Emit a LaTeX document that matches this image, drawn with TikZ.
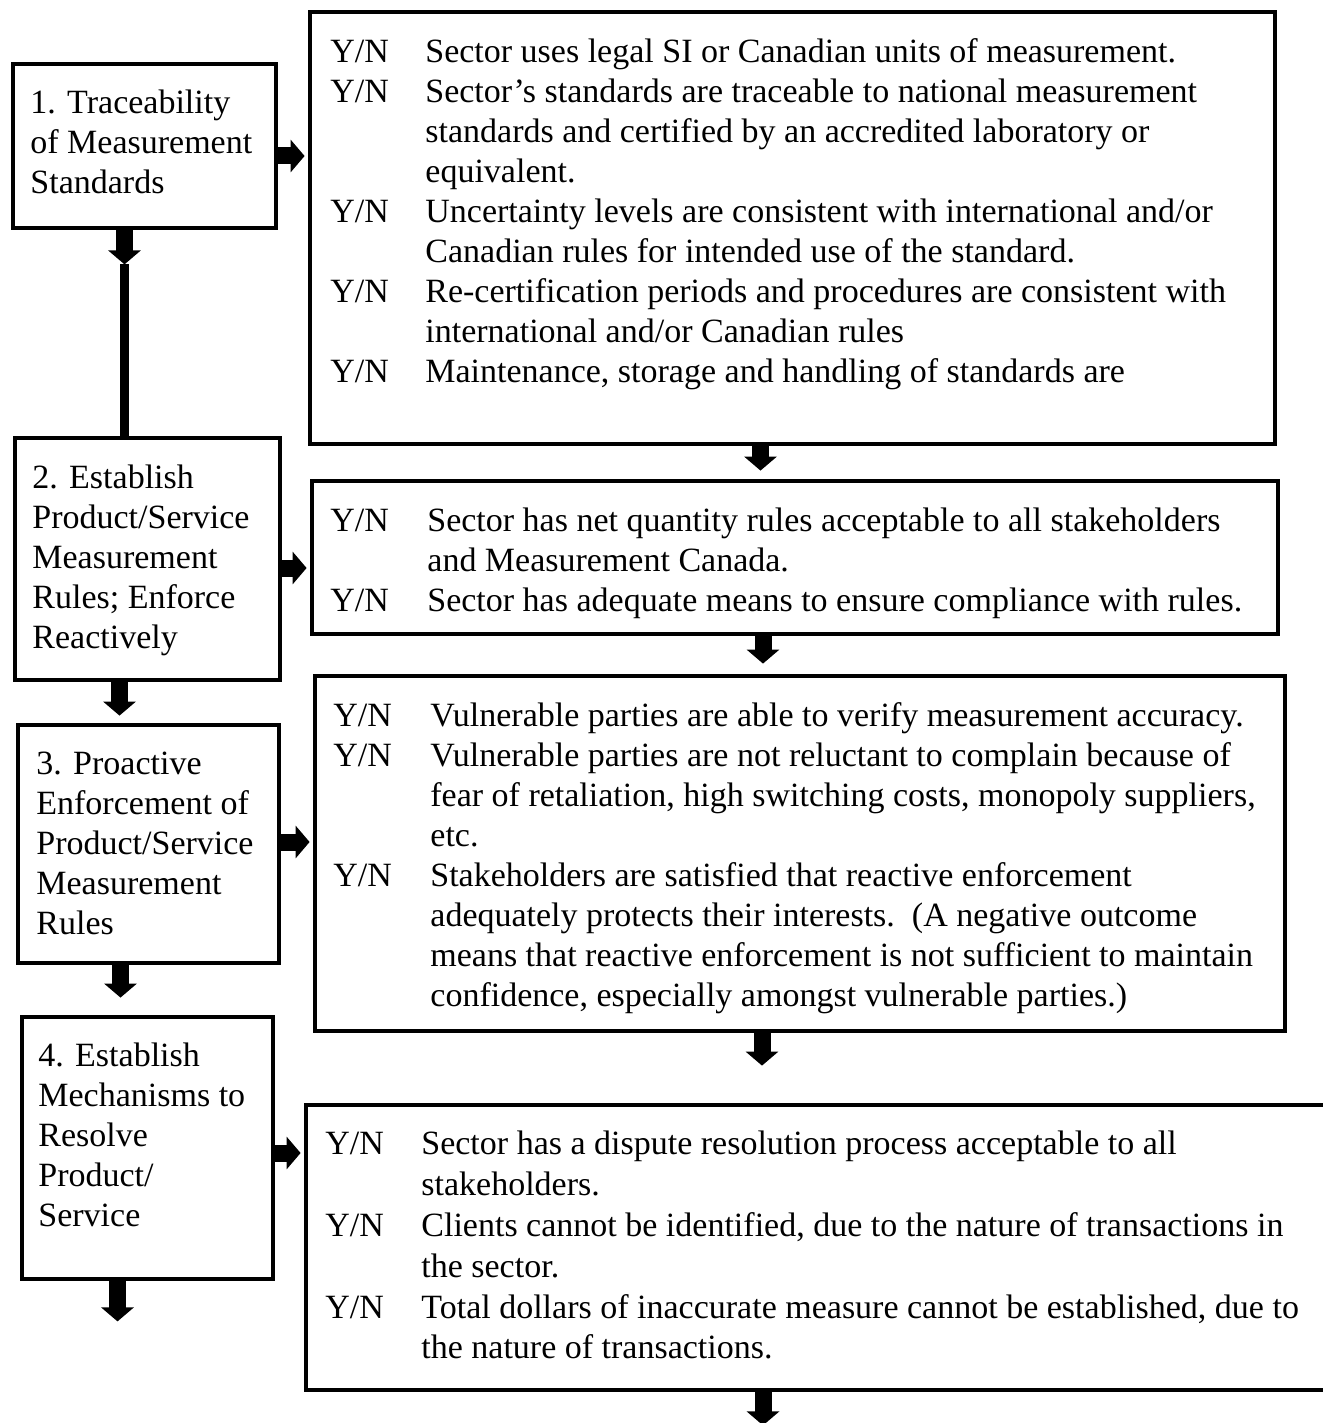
\documentclass[tikz,border=0pt]{standalone}
\usepackage{fontspec}
\setmainfont{Liberation Serif}
\usetikzlibrary{arrows.meta,fit}

\tikzset{
    stagebox/.style={draw, line width=2.4pt, inner sep=0pt},
    boxtext/.style={anchor=north west, inner sep=0pt, font=\fontsize{17}{20}\selectfont},
    blockarrow/.style={line width=8.5pt, -{Triangle[width=16pt,length=7pt]}},
}

\begin{document}
\begin{tikzpicture}[x=0.5pt, y=-0.5pt]
    \useasboundingbox (0,0) rectangle (1322,1423);

    % 1. Traceability (left) and its checks (right)
    \node[stagebox, fit={(13,64) (276,228)}] (b1) {};
    \node[boxtext] (t1) at (30,85) {\begin{tabular}{@{}l@{}}
        1. Traceability\\
        of Measurement\\
        Standards
    \end{tabular}};
    \node[stagebox, fit={(310,12) (1275,444)}] (bA) {};
    \node[boxtext] (tA) at (330,34) {\begin{tabular}{@{}p{47.5pt}@{}l@{}}
        Y/N & Sector uses legal SI or Canadian units of measurement.\\
        Y/N & Sector's standards are traceable to national measurement\\
            & standards and certified by an accredited laboratory or\\
            & equivalent.\\
        Y/N & Uncertainty levels are consistent with international and/or\\
            & Canadian rules for intended use of the standard.\\
        Y/N & Re-certification periods and procedures are consistent with\\
            & international and/or Canadian rules\\
        Y/N & Maintenance, storage and handling of standards are
    \end{tabular}};

    % 2. Establish rules (left) and its checks (right)
    \node[stagebox, fit={(15,438) (280,680)}] (b2) {};
    \node[boxtext] (t2) at (32,460) {\begin{tabular}{@{}l@{}}
        2. Establish\\
        Product/Service\\
        Measurement\\
        Rules; Enforce\\
        Reactively
    \end{tabular}};
    \node[stagebox, fit={(312,481) (1278,634)}] (bB) {};
    \node[boxtext] (tB) at (330,503) {\begin{tabular}{@{}p{48.5pt}@{}l@{}}
        Y/N & Sector has net quantity rules acceptable to all stakeholders\\
            & and Measurement Canada.\\
        Y/N & Sector has adequate means to ensure compliance with rules.
    \end{tabular}};

    % 3. Proactive enforcement (left) and its checks (right)
    \node[stagebox, fit={(18,725) (279,963)}] (b3) {};
    \node[boxtext] (t3) at (36,746) {\begin{tabular}{@{}l@{}}
        3. Proactive\\
        Enforcement of\\
        Product/Service\\
        Measurement\\
        Rules
    \end{tabular}};
    \node[stagebox, fit={(315,676) (1285,1031)}] (bC) {};
    \node[boxtext] (tC) at (333,698) {\begin{tabular}{@{}p{48.5pt}@{}l@{}}
        Y/N & Vulnerable parties are able to verify measurement accuracy.\\
        Y/N & Vulnerable parties are not reluctant to complain because of\\
            & fear of retaliation, high switching costs, monopoly suppliers,\\
            & etc.\\
        Y/N & Stakeholders are satisfied that reactive enforcement\\
            & adequately protects their interests.\ \ (A negative outcome\\
            & means that reactive enforcement is not sufficient to maintain\\
            & confidence, especially amongst vulnerable parties.)
    \end{tabular}};

    % 4. Dispute mechanisms (left) and its checks (right, runs off the page)
    \node[stagebox, fit={(22,1017) (273,1279)}] (b4) {};
    \node[boxtext] (t4) at (38,1038) {\begin{tabular}{@{}l@{}}
        4. Establish\\
        Mechanisms to\\
        Resolve\\
        Product/\\
        Service
    \end{tabular}};
    \node[stagebox, fit={(306,1105) (1340,1390)}] (bD) {};
    \node[boxtext] (tD) at (325,1126) {\fontsize{17}{20.4}\selectfont\begin{tabular}{@{}p{48pt}@{}l@{}}
        Y/N & Sector has a dispute resolution process acceptable to all\\
            & stakeholders.\\
        Y/N & Clients cannot be identified, due to the nature of transactions in\\
            & the sector.\\
        Y/N & Total dollars of inaccurate measure cannot be established, due to\\
            & the nature of transactions.
    \end{tabular}};

    % arrows: stage -> checks
    \draw[blockarrow, shorten >=1.5pt] ([yshift=-5pt]b1.east) -- ([yshift=-5pt]b1.east -| bA.west);
    \draw[blockarrow, shorten >=1.5pt] ([yshift=-4.5pt]b2.east) -- ([yshift=-4.5pt]b2.east -| bB.west);
    \draw[blockarrow, shorten >=1.5pt] ([yshift=1pt]b3.east) -- ([yshift=1pt]b3.east -| bC.west);
    \draw[blockarrow, shorten >=1.5pt] ([yshift=-2.5pt]b4.east) -- ([yshift=-2.5pt]b4.east -| bD.west);

    % arrows: stage -> next stage
    \draw[blockarrow] ([xshift=-10pt]b1.south) -- ++(0,34) coordinate (m12);
    \draw[line width=4.5pt] (m12) -- (m12 |- b2.north);
    \draw[blockarrow, shorten >=3.5pt] ([xshift=-14pt]b2.south) -- ([xshift=-14pt]b2.south |- b3.north);
    \draw[blockarrow, shorten >=8.5pt] ([xshift=-14pt]b3.south) -- ([xshift=-14pt]b3.south |- b4.north);
    \draw[blockarrow] ([xshift=-15pt]b4.south) -- ++(0,40) coordinate (e4);

    % arrows: checks -> next checks
    \draw[blockarrow, shorten >=4pt] ([xshift=-16pt]bA.south) -- ([xshift=-16pt]bA.south |- bB.north);
    \draw[blockarrow, shorten >=5pt] ([xshift=-16pt]bB.south) -- ([xshift=-16pt]bB.south |- bC.north);
    \draw[blockarrow, shorten >=18.5pt] ([xshift=-19pt]bC.south) -- ([xshift=-19pt]bC.south |- bD.north);
    \draw[blockarrow] ([xshift=-30pt]bD.south) -- ++(0,33) coordinate (eD);

\end{tikzpicture}
\end{document}
